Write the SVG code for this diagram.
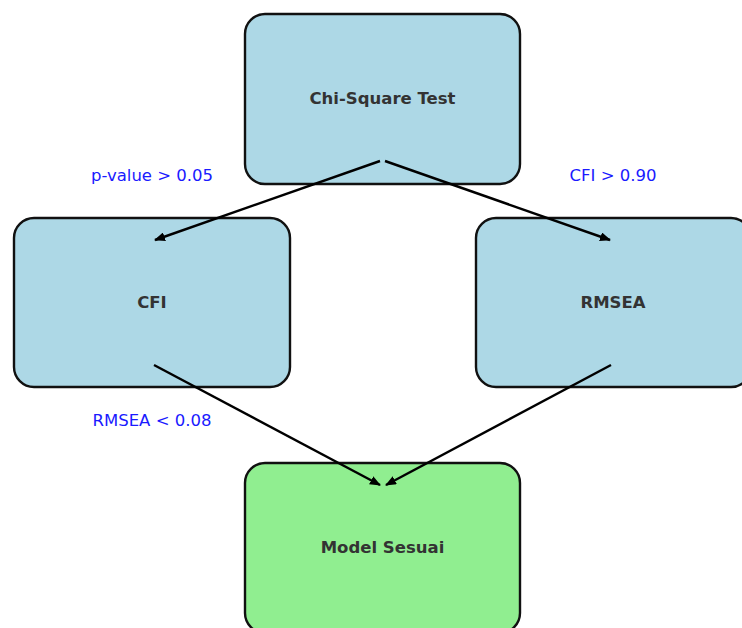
<svg xmlns="http://www.w3.org/2000/svg" width="742" height="628" viewBox="0 0 742 628">
<style>
.box{stroke:#111;stroke-width:2.4}
.blue{fill:#add8e6}
.green{fill:#90ee90}
.t{font-family:"DejaVu Sans",sans-serif;font-weight:bold;font-size:16.5px;fill:#333;text-anchor:middle;dominant-baseline:central}
.lbl{font-family:"DejaVu Sans",sans-serif;font-size:16.5px;fill:#1a1aff;text-anchor:middle;dominant-baseline:central}
.e{stroke:#000;stroke-width:2.4;fill:none;marker-end:url(#ah)}
</style>
<defs>
<marker id="ah" viewBox="0 0 11 9" refX="10" refY="4.5" markerWidth="11" markerHeight="9" markerUnits="userSpaceOnUse" orient="auto">
<path d="M0,0 L11,4.5 L0,9 Z" fill="#000"/>
</marker>
</defs>
<rect width="742" height="628" fill="#fff"/>
<g id="chi"><rect class="box blue" x="245" y="14" width="275" height="170" rx="20"/><text class="t" x="382.5" y="98">Chi-Square Test</text></g>
<g id="cfi"><rect class="box blue" x="14" y="218" width="276" height="169" rx="20"/><text class="t" x="152" y="302">CFI</text></g>
<g id="rmsea"><rect class="box blue" x="476" y="218" width="275" height="169" rx="20"/><text class="t" x="613" y="302">RMSEA</text></g>
<g id="model"><rect class="box green" x="245" y="463" width="275" height="170" rx="20"/><text class="t" x="382.5" y="547">Model Sesuai</text></g>
<g id="connectors">
<line class="e" x1="380" y1="161" x2="155" y2="240"/>
<line class="e" x1="385" y1="161" x2="610" y2="240"/>
<line class="e" x1="154" y1="365" x2="380" y2="485"/>
<line class="e" x1="611" y1="365" x2="386" y2="485"/>
</g>
<g id="labels">
<text class="lbl" x="152" y="175">p-value &gt; 0.05</text>
<text class="lbl" x="613" y="175">CFI &gt; 0.90</text>
<text class="lbl" x="152" y="420">RMSEA &lt; 0.08</text>
</g>
</svg>
